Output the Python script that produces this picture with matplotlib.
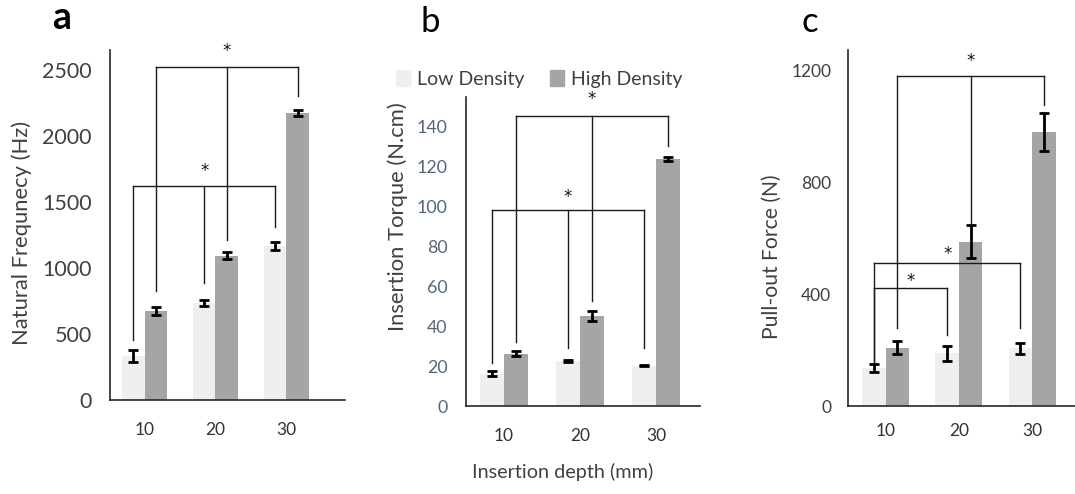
import matplotlib
matplotlib.use("Agg")
import matplotlib.pyplot as plt
from matplotlib.patches import Patch
import numpy as np

plt.rcParams['font.family'] = ['Lato', 'DejaVu Sans']

# ---------------- data ----------------
depths = ['10', '20', '30']
series_names = ['Low Density', 'High Density']

a_low = [330, 733, 1167]
a_low_err = [45, 22, 28]
a_high = [676, 1093, 2172]
a_high_err = [30, 25, 25]

b_low = [16.3, 22.6, 20.3]
b_low_err = [1.5, 0.6, 0.4]
b_high = [26.3, 45.0, 123.7]
b_high_err = [1.3, 2.5, 1.0]

c_low = [135, 188, 206]
c_low_err = [15, 28, 21]
c_high = [209, 588, 980]
c_high_err = [22, 58, 68]

# significance brackets: (series, group indices, top height, leg bottoms, star x (group), star y)
a_brackets = [
    ('low', [0, 1, 2], 1620, [454, 886, 1311], 1.0, 1735),
    ('high', [0, 1, 2], 2525, [826, 1212, 2298], 1.0, 2640),
]
b_brackets = [
    ('low', [0, 1, 2], 98.5, [21.6, 29, 29], 1.0, 104.6),
    ('high', [0, 1, 2], 145.5, [32.3, 52.5, 130.4], 1.0, 154),
]
c_brackets = [
    ('low', [0, 1], 421, [153, 254], 0.5, 447),
    ('low', [0, 2], 511, [153, 279], 1.0, 544),
    ('high', [0, 1, 2], 1181, [279, 655, 1077], 1.0, 1235),
]

LOW_C = '#efefef'
HIGH_C = '#a6a4a4'
W = 0.32

fig = plt.figure(figsize=(10.75, 4.94), dpi=100)
FW, FH = 1075, 494


def axes_px(l, r, t, b):
    return fig.add_axes([l / FW, 1 - b / FH, (r - l) / FW, (b - t) / FH])


def panel(ax, low, low_err, high, high_err, brackets, ylim, yticks, xlim,
          ytick_fs, ytick_color, ypad, xpad):
    x = np.arange(len(depths))
    off = {'low': -W / 2, 'high': W / 2}
    ax.bar(x + off['low'], low, W, color=LOW_C, zorder=1)
    ax.bar(x + off['high'], high, W, color=HIGH_C, zorder=1)
    ek = dict(fmt='none', ecolor='black', elinewidth=2, capsize=3.5, capthick=2, zorder=3)
    ax.errorbar(x + off['low'], low, yerr=low_err, **ek)
    ax.errorbar(x + off['high'], high, yerr=high_err, **ek)
    for ser, idx, top, bots, sx, sy in brackets:
        xs = [i + off[ser] for i in idx]
        ax.plot([xs[0], xs[-1]], [top, top], color='#1a1a1a', lw=1.0, zorder=2)
        for xi, bi in zip(xs, bots):
            ax.plot([xi, xi], [bi, top], color='#1a1a1a', lw=1.0, zorder=2)
        ax.text(sx + off[ser], sy, '*', ha='center', va='center', fontsize=12,
                family='DejaVu Sans', color='#111111')
    ax.set_xlim(*xlim)
    ax.set_ylim(*ylim)
    ax.set_yticks(yticks)
    ax.set_xticks(x)
    ax.set_xticklabels(depths)
    for s in ['top', 'right']:
        ax.spines[s].set_visible(False)
    for s in ['left', 'bottom']:
        ax.spines[s].set_color('#262626')
        ax.spines[s].set_linewidth(1.2)
    ax.tick_params(axis='y', length=0, pad=ypad, labelsize=ytick_fs, labelcolor=ytick_color)
    ax.tick_params(axis='x', length=0, pad=xpad, labelsize=12.5, labelcolor='#333333')


ax_a = axes_px(110, 345, 50, 400)
panel(ax_a, a_low, a_low_err, a_high, a_high_err, a_brackets, (0, 2650),
      [0, 500, 1000, 1500, 2000, 2500], (-0.49, 2.83), 15.5, '#404040', 13, 16)

ax_b = axes_px(466, 700, 97, 406)
panel(ax_b, b_low, b_low_err, b_high, b_high_err, b_brackets, (0, 155),
      [0, 20, 40, 60, 80, 100, 120, 140], (-0.5, 2.58), 12.8, '#56667a', 13.5, 16)

ax_c = axes_px(848, 1075, 50, 406)
panel(ax_c, c_low, c_low_err, c_high, c_high_err, c_brackets, (0, 1274),
      [0, 400, 800, 1200], (-0.515, 2.586), 12.5, '#404040', 12, 12)

# y labels
fig.text(22 / FW, 1 - 233 / FH, 'Natural Frequnecy (Hz)', rotation=90, ha='center', va='center',
         fontsize=15.8, color='#404040')
fig.text(398 / FW, 1 - 217 / FH, 'Insertion Torque (N.cm)', rotation=90, ha='center', va='center',
         fontsize=15.8, color='#404040')
fig.text(772 / FW, 1 - 257 / FH, 'Pull-out Force (N)', rotation=90, ha='center', va='center',
         fontsize=15.2, color='#404040')

# x label
fig.text(563 / FW, 1 - 472 / FH, 'Insertion depth (mm)', ha='center', va='center',
         fontsize=14.3, color='#404040')

# panel letters
fig.text(62 / FW, 1 - 18 / FH, 'a', ha='center', va='center', fontsize=27, fontweight='bold', color='black')
fig.text(430 / FW, 1 - 22 / FH, 'b', ha='center', va='center', fontsize=25, color='black')
fig.text(810 / FW, 1 - 22 / FH, 'c', ha='center', va='center', fontsize=25, color='black')

# legend
handles = [Patch(color=LOW_C), Patch(color=HIGH_C)]
fig.legend(handles, series_names, loc='center', bbox_to_anchor=(539 / FW, 1 - 79 / FH),
           ncol=2, frameon=False, fontsize=14, handlelength=0.75, handleheight=0.9,
           handletextpad=0.35, columnspacing=1.3, labelcolor='#404040')

fig.savefig('out.png', dpi=100)
